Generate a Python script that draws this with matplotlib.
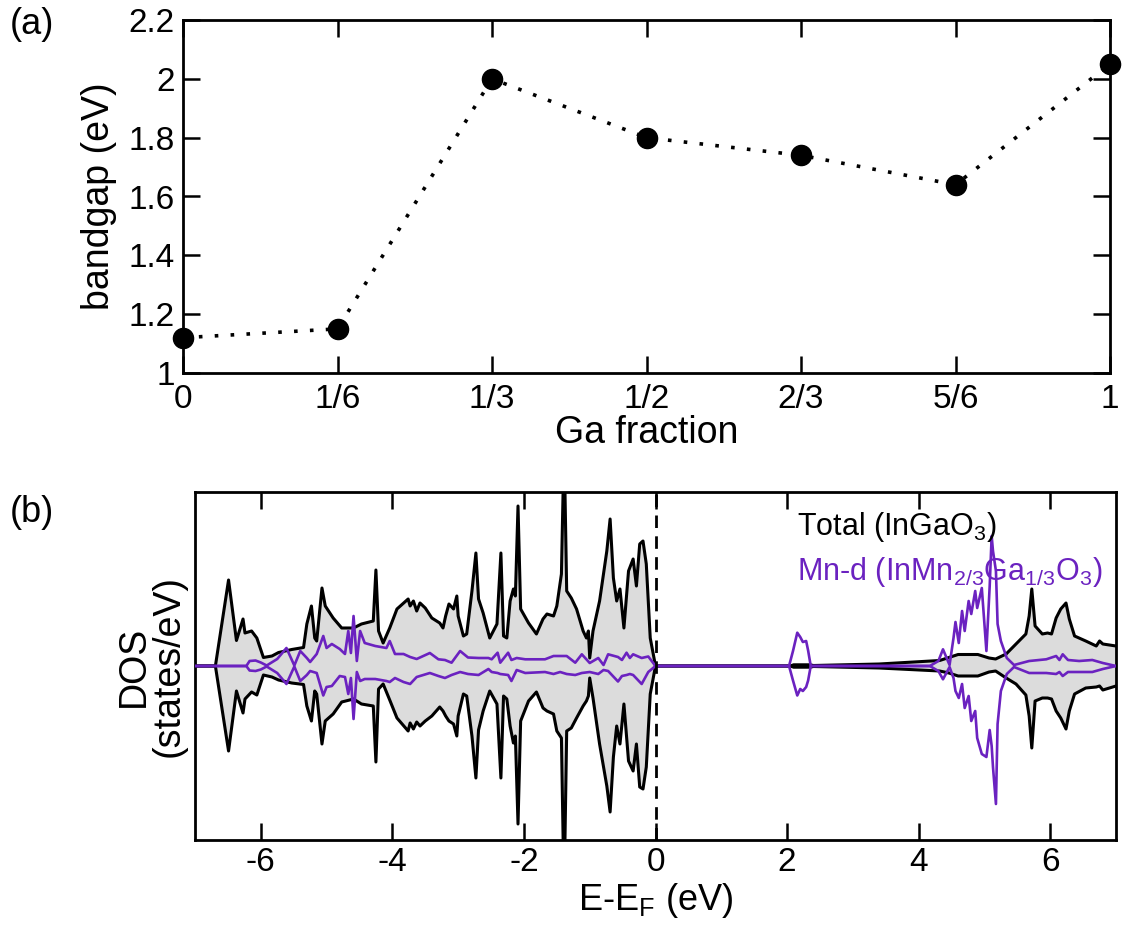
import numpy as np
import matplotlib
matplotlib.use("Agg")
import matplotlib.pyplot as plt

plt.rcParams['font.family'] = ['Liberation Sans', 'DejaVu Sans']
plt.rcParams['mathtext.fontset'] = 'custom'
plt.rcParams['mathtext.rm'] = 'Liberation Sans'
plt.rcParams['mathtext.it'] = 'Liberation Sans:italic'

# ---------------- Panel (a) data ----------------
ga_fraction = [0, 1/6, 1/3, 1/2, 2/3, 5/6, 1]
ga_labels = ['0', '1/6', '1/3', '1/2', '2/3', '5/6', '1']
bandgap = [1.12, 1.15, 2.00, 1.80, 1.74, 1.64, 2.05]
bandgap_yticks = [1, 1.2, 1.4, 1.6, 1.8, 2, 2.2]
bandgap_yticklabels = ['1', '1.2', '1.4', '1.6', '1.8', '2', '2.2']

# ---------------- Panel (b) data ----------------
tot_E = [-7.0, -6.69, -6.49, -6.37, -6.27, -6.24, -6.14, -6.06, -5.96, -5.83,
         -5.73, -5.53, -5.35, -5.30, -5.23, -5.18, -5.15, -5.07, -5.02, -4.90,
         -4.77, -4.59, -4.47, -4.29, -4.25, -4.21, -4.14, -4.04, -3.93, -3.76,
         -3.73, -3.68, -3.63, -3.58, -3.50, -3.40, -3.28, -3.23, -3.19, -3.14,
         -3.07, -3.02, -3.00, -2.92, -2.87, -2.79, -2.73, -2.69, -2.62, -2.52,
         -2.41, -2.35, -2.31, -2.26, -2.21, -2.16, -2.13, -2.09, -2.05, -1.93,
         -1.81, -1.71, -1.65, -1.55, -1.50, -1.43, -1.40, -1.38, -1.35, -1.28,
         -1.20, -1.10, -1.05, -1.02, -1.00, -0.95, -0.85, -0.74, -0.69, -0.64,
         -0.59, -0.54, -0.48, -0.41, -0.34, -0.29, -0.24, -0.19, -0.14, -0.08,
         0.0, 2.05, 2.10, 2.35, 2.40, 3.40, 4.32, 4.46, 4.60, 4.90,
         5.07, 5.17, 5.33, 5.48, 5.63, 5.68, 5.72, 5.77, 5.88, 5.96,
         6.02, 6.09, 6.16, 6.24, 6.29, 6.37, 6.54, 6.70, 6.75, 6.80, 7.0]
tot_up = [0, 0, 8.6, 2.55, 4.7, 3.3, 3.5, 2.8, 0.85, 1.0,
          1.35, 1.65, 1.85, 4.2, 6.0, 2.8, 2.5, 7.8, 6.0, 4.8,
          3.8, 3.8, 4.2, 4.5, 9.6, 3.5, 2.3, 3.8, 5.7, 6.7,
          6.0, 6.5, 5.5, 6.3, 5.8, 4.8, 4.3, 3.8, 5.0, 6.2,
          5.7, 7.0, 5.0, 3.0, 3.2, 7.5, 11.3, 6.7, 5.3, 2.8,
          4.2, 11.3, 3.0, 2.8, 6.5, 7.7, 7.0, 16.0, 5.7, 4.3,
          3.2, 4.7, 5.2, 5.0, 6.0, 9.2, 19.0, 19.0, 7.5, 6.8,
          5.7, 3.5, 2.8, 3.5, 0.8, 3.5, 6.5, 11.5, 14.7, 8.8,
          6.5, 7.7, 3.8, 9.5, 10.7, 8.0, 12.2, 12.5, 10.2, 2.8,
          0, 0, 0.12, 0.12, 0.05, 0.2, 0.55, 0.85, 1.15, 1.15,
          0.8, 0.7, 1.2, 2.2, 3.2, 5.0, 7.7, 4.0, 3.2, 3.3,
          3.2, 4.8, 5.7, 6.3, 4.7, 3.0, 2.5, 2.0, 2.5, 2.2, 2.0]
tot_dn = [0, 0, -8.5, -2.5, -4.7, -3.3, -2.6, -2.9, -0.9, -1.1,
          -1.4, -1.7, -1.85, -4.0, -5.5, -2.5, -2.8, -7.8, -5.5, -4.8,
          -3.6, -3.3, -3.8, -4.0, -9.6, -2.3, -1.8, -3.4, -5.2, -6.5,
          -5.7, -6.3, -5.6, -6.0, -5.5, -5.0, -4.1, -4.5, -5.0, -5.5,
          -5.8, -7.0, -5.0, -2.8, -3.0, -7.0, -11.2, -6.4, -4.5, -2.5,
          -3.8, -11.2, -3.0, -3.3, -6.0, -7.7, -7.0, -15.8, -5.5, -3.5,
          -2.6, -4.2, -4.5, -4.8, -6.5, -7.2, -19.0, -19.0, -6.5, -6.2,
          -5.2, -4.0, -3.5, -3.0, -1.2, -3.2, -7.8, -12.0, -14.6, -9.1,
          -6.0, -7.8, -3.8, -9.5, -10.5, -7.8, -12.1, -12.3, -10.1, -2.8,
          0, 0, -0.12, -0.12, -0.05, -0.2, -0.5, -0.7, -1.0, -1.0,
          -0.6, -0.5, -1.2, -1.8, -2.9, -5.0, -8.2, -3.5, -3.2, -3.2,
          -3.3, -4.5, -5.2, -6.3, -4.5, -2.8, -2.2, -2.1, -2.0, -2.4, -2.0]

mn_E = [-7.0, -6.22, -6.17, -6.08, -6.00, -5.91, -5.75, -5.61, -5.49, -5.40,
        -5.30, -5.25, -5.15, -5.05, -5.00, -4.92, -4.80, -4.72, -4.67, -4.63,
        -4.59, -4.54, -4.49, -4.42, -4.26, -4.09, -4.04, -3.96, -3.83, -3.73,
        -3.63, -3.43, -3.30, -3.20, -3.10, -2.97, -2.85, -2.69, -2.54, -2.49,
        -2.40, -2.36, -2.24, -2.19, -2.11, -1.98, -1.68, -1.55, -1.45, -1.35,
        -1.22, -1.12, -1.00, -0.87, -0.79, -0.72, -0.57, -0.51, -0.44, -0.39,
        -0.34, -0.21, -0.11, 0.0, 2.03, 2.09, 2.155, 2.20, 2.24, 2.29,
        2.32, 2.36, 4.17, 4.30, 4.37, 4.47, 4.53, 4.56, 4.61, 4.66,
        4.70, 4.76, 4.80, 4.86, 4.89, 4.96, 5.03, 5.08, 5.11, 5.13,
        5.175, 5.20, 5.25, 5.34, 5.45, 5.68, 5.94, 6.09, 6.14, 6.19,
        6.27, 6.44, 6.64, 6.80, 7.0]
mn_up = [0, 0, 0.5, 0.55, 0.35, 0.05, 0.7, 1.8, 0.05, 1.5,
         0.8, 0.4, 1.2, 3.0, 1.8, 2.2, 1.7, 1.2, 3.5, 1.3,
         5.0, 0.5, 3.5, 2.3, 2.0, 1.8, 2.5, 1.2, 1.2, 0.9,
         0.7, 1.3, 0.67, 0.6, 0.33, 1.5, 0.85, 0.8, 0.8, 0.67,
         1.33, 0.33, 1.33, 0.6, 0.8, 0.67, 0.67, 1.0, 1.0, 1.0,
         0.33, 1.17, 0.3, 0.8, 0.1, 1.17, 0.9, 0.6, 1.33, 0.8,
         1.17, 0.8, 0.95, 0, 0, 1.5, 3.33, 2.9, 2.4, 2.5,
         1.55, 0, 0, 0.5, 1.67, 0.1, 2.8, 4.4, 2.3, 5.5,
         3.5, 6.5, 5.2, 7.5, 5.8, 7.8, 1.5, 8.0, 13.0, 11.5,
         9.5, 4.2, 2.5, 0.8, 0.1, 0.5, 0.67, 1.0, 0.6, 1.17,
         0.6, 0.5, 0.6, 0.3, 0]
mn_dn = [0, 0, -0.45, -0.5, -0.35, -0.05, -0.7, -1.8, -0.05, -1.5,
         -0.9, -0.5, -0.7, -2.95, -2.1, -2.0, -1.0, -1.1, -2.8, -1.2,
         -5.3, -0.6, -1.5, -1.3, -1.3, -1.5, -1.6, -1.2, -1.6, -1.8,
         -1.1, -0.7, -1.0, -1.2, -0.9, -0.6, -0.8, -0.9, -0.3, -0.6,
         -0.7, -0.8, -0.9, -1.5, -0.4, -0.7, -0.6, -0.8, -0.6, -0.8,
         -0.9, -0.7, -0.6, -0.8, -0.4, -0.5, -1.55, -1.0, -0.9, -0.8,
         -0.9, -1.8, -0.6, 0, 0, -1.45, -2.95, -2.3, -2.5, -2.1,
         -1.45, 0, 0, -0.5, -1.33, -0.1, -1.2, -2.5, -3.2, -1.8,
         -4.2, -3.0, -5.5, -4.5, -7.2, -8.8, -9.1, -6.4, -8.0, -10.1,
         -13.8, -5.8, -2.5, -0.8, -0.1, -0.7, -0.7, -0.8, -0.6, -1.0,
         -0.6, -0.6, -0.6, -0.3, 0]

dos_xticks = [-6, -4, -2, 0, 2, 4, 6]

PURPLE = '#6B22C0'

fig = plt.figure(figsize=(11.22, 9.30), dpi=100)

# ---------------- Panel (a) ----------------
ax1 = fig.add_axes([183/1122, 1-373/930, (1110-183)/1122, (373-20)/930])
ax1.plot(ga_fraction, bandgap, color='black', lw=2.6, linestyle=(0, (1, 3.4)),
         marker='o', markersize=14.5, markerfacecolor='black',
         markeredgecolor='black', clip_on=False, zorder=3)
ax1.set_xlim(0, 1)
ax1.set_ylim(1, 2.2)
ax1.set_xticks(ga_fraction)
ax1.set_xticklabels(ga_labels)
ax1.set_yticks(bandgap_yticks)
ax1.set_yticklabels(bandgap_yticklabels)
ax1.tick_params(axis='both', which='major', direction='in', length=12,
                width=1.8, labelsize=24, top=True, right=True)
ax1.tick_params(axis='x', pad=8)
ax1.tick_params(axis='y', pad=6)
ax1.set_xlabel('Ga fraction', fontsize=27, labelpad=0)
ax1.set_ylabel('bandgap (eV)', fontsize=27, labelpad=8)
for s in ax1.spines.values():
    s.set_linewidth(2.0)
fig.text(10/1122, 1-25/930, '(a)', fontsize=26, ha='left', va='center')

# ---------------- Panel (b) ----------------
ax2 = fig.add_axes([195/1122, 1-840/930, (1116-195)/1122, (840-492)/930])
ax2.fill_between(tot_E, tot_dn, tot_up, color='#dcdcdc', lw=0, zorder=1)
ax2.plot(tot_E, tot_up, color='black', lw=2.2, zorder=2)
ax2.plot(tot_E, tot_dn, color='black', lw=2.2, zorder=2)
ax2.plot(mn_E, mn_up, color=PURPLE, lw=1.9, zorder=3)
ax2.plot(mn_E, mn_dn, color=PURPLE, lw=1.9, zorder=3)
ax2.axvline(0, color='black', lw=2.0, linestyle=(0, (4.5, 3)), zorder=4)
ax2.set_xlim(-7, 7)
ax2.set_ylim(-17.4, 17.4)
ax2.set_xticks(dos_xticks)
ax2.set_xticklabels([str(t) for t in dos_xticks])
ax2.set_yticks([])
ax2.tick_params(axis='x', which='major', direction='in', length=12,
                width=1.8, labelsize=24, top=True, pad=5)
ax2.set_xlabel('E-E$_\\mathregular{F}$ (eV)', fontsize=26, labelpad=2)
ax2.set_ylabel('DOS\n(states/eV)', fontsize=27, labelpad=6, linespacing=0.95)
for s in ax2.spines.values():
    s.set_linewidth(2.0)
ax2.text(0.654, 0.90, 'Total (InGaO$_\\mathregular{3}$)', transform=ax2.transAxes,
         fontsize=22, color='black', ha='left', va='center', zorder=5)
ax2.text(0.654, 0.77,
         'Mn-d (InMn$_\\mathregular{2/3}$Ga$_\\mathregular{1/3}$O$_\\mathregular{3}$)',
         transform=ax2.transAxes, fontsize=22, color=PURPLE, ha='left',
         va='center', zorder=5)
fig.text(10/1122, 1-512/930, '(b)', fontsize=26, ha='left', va='center')

fig.savefig('out.png', dpi=100)
